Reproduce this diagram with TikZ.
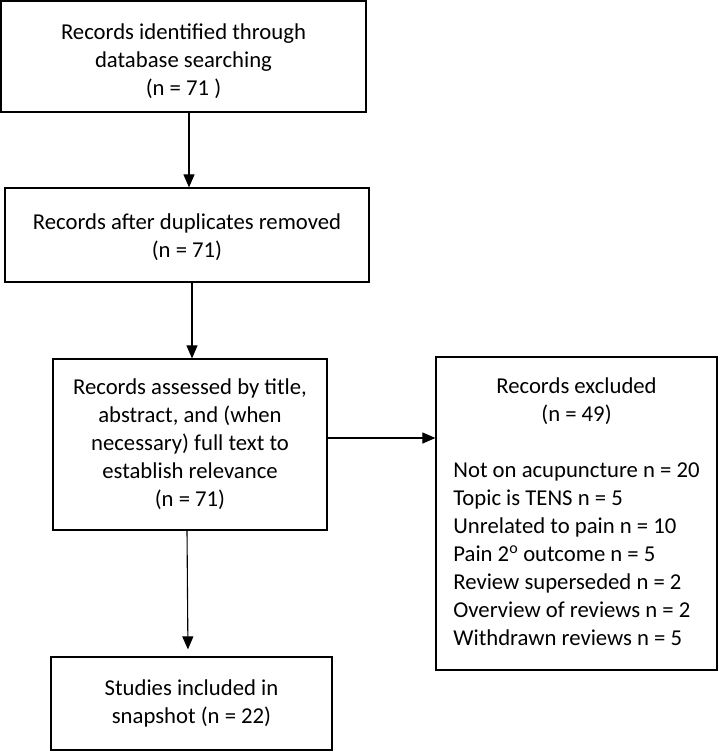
\documentclass[tikz,border=0pt]{standalone}
\usepackage{fontspec}
\setmainfont{Carlito}
\usetikzlibrary{arrows.meta}
\newcommand{\titlefont}{\fontsize{22.7}{28}\selectfont}
\begin{document}
\begin{tikzpicture}[x=1pt,y=-1pt,
  box/.style={draw, line width=1.2pt, align=center, inner sep=0pt,
    font=\titlefont},
  arr/.style={line width=1.1pt, -{Triangle[length=13pt,width=11pt]}}]
\useasboundingbox (0,0) rectangle (718,751);
\node[box, minimum width=365pt, minimum height=111pt] (b1) at (183.5,56.5)
  {\rule{0pt}{25pt}Records identified through\\database searching\\(n = 71 )};
\node[box, minimum width=364pt, minimum height=94pt] (b2) at (187,235)
  {\rule{0pt}{20pt}Records after duplicates removed\\(n = 71)};
\node[box, minimum width=274pt, minimum height=171pt] (b3) at (190,444.5)
  {Records assessed by title,\\abstract, and (when\\necessary) full text to\\establish relevance\\(n = 71)};
\node[box, minimum width=281pt, minimum height=313pt] (b4) at (576.5,513.5)
  {\begin{tabular}{@{}l@{}}
   \multicolumn{1}{@{}c@{}}{Records excluded}\\
   \multicolumn{1}{@{}c@{}}{(n = 49)}\\
   \\
   Not on acupuncture n = 20\\
   Topic is TENS n = 5\\
   Unrelated to pain n = 10\\
   Pain 2\textsuperscript{o} outcome n = 5\\
   Review superseded n = 2\\
   Overview of reviews n = 2\\
   Withdrawn reviews n = 5
   \end{tabular}};
\node[box, minimum width=281pt, minimum height=93pt] (b5) at (191.5,703.5)
  {Studies included in\\snapshot (n = 22)};
\draw[arr] (b1.south -| 189,0) -- (b2.north -| 189,0);
\draw[arr] (b2.south -| 192,0) -- (b3.north -| 192,0);
\draw[arr] (b3.east |- 0,438) -- (b4.west |- 0,438);
\draw[arr, shorten >=7pt] (b3.south -| 187,0) -- (b5.north -| 188,0);
\end{tikzpicture}
\end{document}
